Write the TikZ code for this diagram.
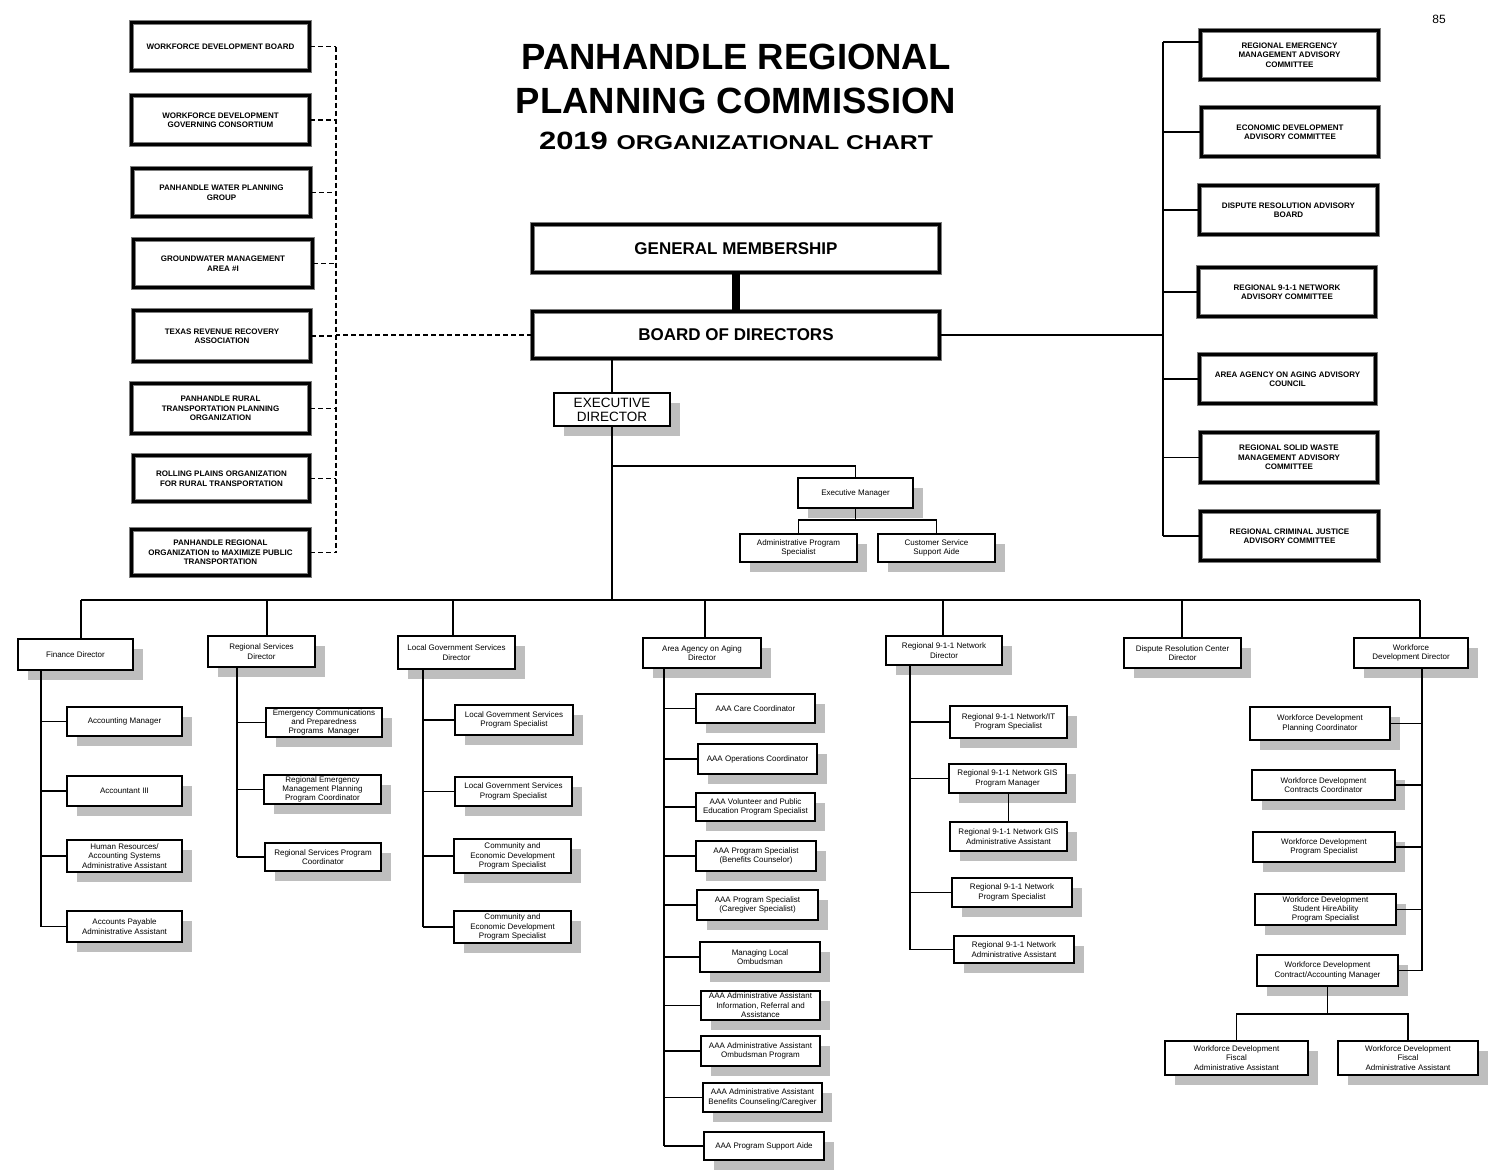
\documentclass[tikz,border=0pt]{standalone}
\usepackage{fontspec}
\setmainfont{Liberation Sans}
\usepackage{graphicx}
\usetikzlibrary{shadows}
\definecolor{shgray}{RGB}{190,190,190}
\definecolor{edgegray}{RGB}{125,125,125}
\tikzset{
  bigbox/.style={draw=edgegray, double=black, double distance=3.2pt, line width=0.7pt, fill=white, align=center, inner sep=1pt, font=\fontsize{8}{9.5}\selectfont\bfseries},
  hugebox/.style={bigbox, font=\fontsize{17}{20}\selectfont\bfseries},
  sbox/.style={draw=black, line width=1.8pt, fill=white, align=center, inner sep=1pt, font=\fontsize{8}{9.4}\selectfont, drop shadow={shadow xshift=10pt, shadow yshift=-10pt, fill=shgray, opacity=1}},
  sz/.style 2 args={minimum width={#1-2}, minimum height={#2-2}},
  bz/.style 2 args={minimum width={#1-4.5}, minimum height={#2-4.5}},
  link/.style={line width=1.6pt},
  dlink/.style={line width=1.5pt, dash pattern=on 5pt off 3pt},
}
\begin{document}
\begin{tikzpicture}[x=1pt,y=-1pt]
\useasboundingbox (0,0) rectangle (1492,1175);
% title
\node[font=\fontsize{36.5}{40}\selectfont\bfseries, anchor=base, inner sep=0] (t1) at (736,69) {PANHANDLE REGIONAL};
\node[font=\fontsize{36.5}{40}\selectfont\bfseries, anchor=base, inner sep=0] (t2) at (736,113) {PLANNING COMMISSION};
\node[anchor=base, inner sep=0] (t3) at (736,149) {\scalebox{1.24}[1]{\fontsize{25}{28}\selectfont\bfseries 2019 \fontsize{20}{24}\selectfont ORGANIZATIONAL CHART}};
\node[font=\fontsize{12}{14}\selectfont, inner sep=0] (pg) at (1439,19) {85};

% left boards
\node[bigbox, bz={183}{53}] (lb1) at (220.5,46.5) {WORKFORCE DEVELOPMENT BOARD};
\node[bigbox, bz={183}{54}] (lb2) at (220.5,120) {WORKFORCE DEVELOPMENT\\GOVERNING CONSORTIUM};
\node[bigbox, bz={183}{53}] (lb3) at (221.5,192.5) {PANHANDLE WATER PLANNING\\GROUP};
\node[bigbox, bz={184}{53}] (lb4) at (223,263.5) {GROUNDWATER MANAGEMENT\\AREA \#I};
\node[bigbox, bz={182}{56}] (lb5) at (222,336) {TEXAS REVENUE RECOVERY\\ASSOCIATION};
\node[bigbox, bz={183}{55}] (lb6) at (220.5,408.5) {PANHANDLE RURAL\\TRANSPORTATION PLANNING\\ORGANIZATION};
\node[bigbox, bz={181}{51}] (lb7) at (221.5,478.5) {ROLLING PLAINS ORGANIZATION\\FOR RURAL TRANSPORTATION};
\node[bigbox, bz={183}{51}] (lb8) at (220.5,552.5) {PANHANDLE REGIONAL\\ORGANIZATION to MAXIMIZE PUBLIC\\TRANSPORTATION};

% right committees
\node[bigbox, bz={183}{54}] (rb1) at (1289.5,55) {REGIONAL EMERGENCY\\MANAGEMENT ADVISORY\\COMMITTEE};
\node[bigbox, bz={182}{54}] (rb2) at (1290,132) {ECONOMIC DEVELOPMENT\\ADVISORY COMMITTEE};
\node[bigbox, bz={183}{54}] (rb3) at (1288.5,210) {DISPUTE RESOLUTION ADVISORY\\BOARD};
\node[bigbox, bz={182}{54}] (rb4) at (1287,292) {REGIONAL 9-1-1 NETWORK\\ADVISORY COMMITTEE};
\node[bigbox, bz={181}{54}] (rb5) at (1287.5,379) {AREA AGENCY ON AGING ADVISORY\\COUNCIL};
\node[bigbox, bz={182}{55}] (rb6) at (1289,457.5) {REGIONAL SOLID WASTE\\MANAGEMENT ADVISORY\\COMMITTEE};
\node[bigbox, bz={183}{54}] (rb7) at (1289.5,536) {REGIONAL CRIMINAL JUSTICE\\ADVISORY COMMITTEE};

% center
\node[hugebox, bz={412}{53}] (gm) at (736,248.5) {GENERAL MEMBERSHIP};
\node[hugebox, bz={412}{52}] (board) at (736,335) {BOARD OF DIRECTORS};
\node[sbox, sz={118}{35}, font=\fontsize{13.5}{14}\selectfont] (ed) at (612,409.5) {EXECUTIVE\\DIRECTOR};
\node[sbox, sz={117}{32}] (em) at (855.5,493) {Executive Manager};
\node[sbox, sz={119}{30}] (aps) at (798.5,548) {Administrative Program\\Specialist};
\node[sbox, sz={119}{30}] (csa) at (936.5,548) {Customer Service\\Support Aide};

% directors
\node[sbox, sz={117}{33}] (fin) at (75.5,654.5) {Finance Director};
\node[sbox, sz={109}{33}] (rsd) at (261.5,651.5) {Regional Services\\Director};
\node[sbox, sz={119}{35}] (lgd) at (456.5,652.5) {Local Government Services\\Director};
\node[sbox, sz={120}{32}] (aad) at (702,653) {Area Agency on Aging\\Director};
\node[sbox, sz={118}{31}] (n9d) at (944,650.5) {Regional 9-1-1 Network\\Director};
\node[sbox, sz={119}{32}] (drd) at (1182.5,653) {Dispute Resolution Center\\Director};
\node[sbox, sz={116}{32}] (wdd) at (1411,653) {Workforce\\Development Director};

% finance
\node[sbox, sz={117}{31}] (f1) at (124.5,721.5) {Accounting Manager};
\node[sbox, sz={117}{32}] (f2) at (124.5,791) {Accountant III};
\node[sbox, sz={117}{34}] (f3) at (124.5,856) {Human Resources/\\Accounting Systems\\Administrative Assistant};
\node[sbox, sz={117}{33}] (f4) at (124.5,926.5) {Accounts Payable\\Administrative Assistant};

% regional services
\node[sbox, sz={118}{31}] (r1) at (324,722.5) {Emergency Communications\\and Preparedness\\Programs\ \ Manager};
\node[sbox, sz={119}{31}] (r2) at (322.5,789.5) {Regional Emergency\\Management Planning\\Program Coordinator};
\node[sbox, sz={118}{30}] (r3) at (323,857) {Regional Services Program\\Coordinator};

% local government
\node[sbox, sz={120}{32}] (l1) at (514,720) {Local Government Services\\Program Specialist};
\node[sbox, sz={119}{31}] (l2) at (513.5,791.5) {Local Government Services\\Program Specialist};
\node[sbox, sz={119}{36}] (l3) at (512.5,856) {Community and\\Economic Development\\Program Specialist};
\node[sbox, sz={119}{34}] (l4) at (512.5,927) {Community and\\Economic Development\\Program Specialist};

% area agency on aging
\node[sbox, sz={121}{31}] (a1) at (755.5,708.5) {AAA Care Coordinator};
\node[sbox, sz={121}{32}] (a2) at (757.5,759) {AAA Operations Coordinator};
\node[sbox, sz={121}{30}] (a3) at (755.5,807) {AAA Volunteer and Public\\Education Program Specialist};
\node[sbox, sz={122}{32}] (a4) at (756,856) {AAA Program Specialist\\(Benefits Counselor)};
\node[sbox, sz={123}{32}] (a5) at (757.5,905) {AAA Program Specialist\\(Caregiver Specialist)};
\node[sbox, sz={122}{32}] (a6) at (760,957) {Managing Local\\Ombudsman};
\node[sbox, sz={121}{31}] (a7) at (760.5,1005.5) {AAA Administrative Assistant\\Information, Referral and\\Assistance};
\node[sbox, sz={121}{32}] (a8) at (760.5,1051) {AAA Administrative Assistant\\Ombudsman Program};
\node[sbox, sz={121}{31}] (a9) at (762.5,1097.5) {AAA Administrative Assistant\\Benefits Counseling/Caregiver};
\node[sbox, sz={122}{30}] (a10) at (764,1146) {AAA Program Support Aide};

% 9-1-1
\node[sbox, sz={119}{34}] (n1) at (1008.5,722) {Regional 9-1-1 Network/IT\\Program Specialist};
\node[sbox, sz={119}{31}] (n2) at (1007.5,778.5) {Regional 9-1-1 Network GIS\\Program Manager};
\node[sbox, sz={119}{31}] (n3) at (1008.5,836.5) {Regional 9-1-1 Network GIS\\Administrative Assistant};
\node[sbox, sz={122}{31}] (n4) at (1012,892.5) {Regional 9-1-1 Network\\Program Specialist};
\node[sbox, sz={122}{29}] (n5) at (1014,949.5) {Regional 9-1-1 Network\\Administrative Assistant};

% workforce
\node[sbox, sz={142}{35}] (w1) at (1320,723.5) {Workforce Development\\Planning Coordinator};
\node[sbox, sz={145}{32}] (w2) at (1323.5,785) {Workforce Development\\Contracts Coordinator};
\node[sbox, sz={144}{32}] (w3) at (1324,847) {Workforce Development\\Program Specialist};
\node[sbox, sz={143}{33}] (w4) at (1325.5,909.5) {Workforce Development\\Student HireAbility\\Program Specialist};
\node[sbox, sz={143}{33}] (w5) at (1327.5,970.5) {Workforce Development\\Contract/Accounting Manager};
\node[sbox, sz={145}{36}] (w6) at (1236.5,1058) {Workforce Development\\Fiscal\\Administrative Assistant};
\node[sbox, sz={142}{36}] (w7) at (1408,1058) {Workforce Development\\Fiscal\\Administrative Assistant};

% ---------- connectors ----------
\coordinate (spL) at (336,0);
\foreach \b in {lb1,lb2,lb3,lb4,lb5,lb6,lb7,lb8}
  \draw[dlink] (\b.east) -- (\b.east -| spL);
\draw[dlink] (lb1.east -| spL) -- (lb8.east -| spL);
\draw[dlink] (board.west) -- (board.west -| spL);

\coordinate (spR) at (1163,42);
\draw[link] (spR) -- (spR -| rb1.west);
\foreach \b in {rb2,rb3,rb4,rb5,rb6,rb7}
  \draw[link] (\b.west) -- (\b.west -| spR);
\draw[link] (spR) -- (rb7.west -| spR);
\draw[link] (board.east) -- (board.east -| spR);

\draw[line width=8pt] (gm.south) -- (board.north);
\draw[link] (ed.north) -- (ed.north |- board.south);

\coordinate (bus) at (0,600);
\draw[link] (ed.south) -- (ed.south |- bus);
\coordinate (emy) at (0,466);
\draw[link] (em.north) -- (em.north |- emy) -- (ed.south |- emy);
\coordinate (emb) at (0,520);
\draw[link] (em.south) -- (em.south |- emb);
\draw[link] (aps.north) -- (aps.north |- emb) -- (csa.north |- emb) -- (csa.north);

\coordinate (d1) at (81,600);
\coordinate (d2) at (267,600);
\coordinate (d3) at (453,600);
\coordinate (d4) at (705,600);
\coordinate (d5) at (943,600);
\coordinate (d6) at (1182,600);
\coordinate (d7) at (1420,600);
\draw[line width=1.8pt] (d1) -- (d7);
\draw[link] (d1) -- (d1 |- fin.north);
\draw[link] (d2) -- (d2 |- rsd.north);
\draw[link] (d3) -- (d3 |- lgd.north);
\draw[link] (d4) -- (d4 |- aad.north);
\draw[link] (d5) -- (d5 |- n9d.north);
\draw[link] (d6) -- (d6 |- drd.north);
\draw[link] (d7) -- (d7 |- wdd.north);

% finance spine
\coordinate (fx) at (41,0);
\draw[link] (fx |- fin.south) -- (fx |- f4.west);
\foreach \b in {f1,f2,f3,f4} \draw[link] (\b.west) -- (\b.west -| fx);
% regional services spine
\coordinate (rx) at (237,0);
\draw[link] (rx |- rsd.south) -- (rx |- r3.west);
\foreach \b in {r1,r2,r3} \draw[link] (\b.west) -- (\b.west -| rx);
% local government spine
\coordinate (lx) at (423,0);
\draw[link] (lx |- lgd.south) -- (lx |- l4.west);
\foreach \b in {l1,l2,l3,l4} \draw[link] (\b.west) -- (\b.west -| lx);
% AAA spine
\coordinate (ax) at (664,0);
\draw[link] (ax |- aad.south) -- (ax |- a10.west);
\foreach \b in {a1,a2,a3,a4,a5,a6,a7,a8,a9,a10} \draw[link] (\b.west) -- (\b.west -| ax);
% 9-1-1 spine
\coordinate (nx) at (910,0);
\draw[link] (nx |- n9d.south) -- (nx |- n5.west);
\foreach \b in {n1,n2,n4,n5} \draw[link] (\b.west) -- (\b.west -| nx);
\draw[link] (n3.north |- n2.south) -- (n3.north);
% workforce spine
\coordinate (wx) at (1422,0);
\draw[link] (wx |- wdd.south) -- (wx |- w5.east);
\foreach \b in {w1,w2,w3,w4,w5} \draw[link] (\b.east) -- (\b.east -| wx);
\coordinate (wby) at (0,1014);
\draw[link] (w5.south) -- (w5.south |- wby);
\draw[link] (w6.north) -- (w6.north |- wby) -- (w7.north |- wby) -- (w7.north);
\end{tikzpicture}
\end{document}
